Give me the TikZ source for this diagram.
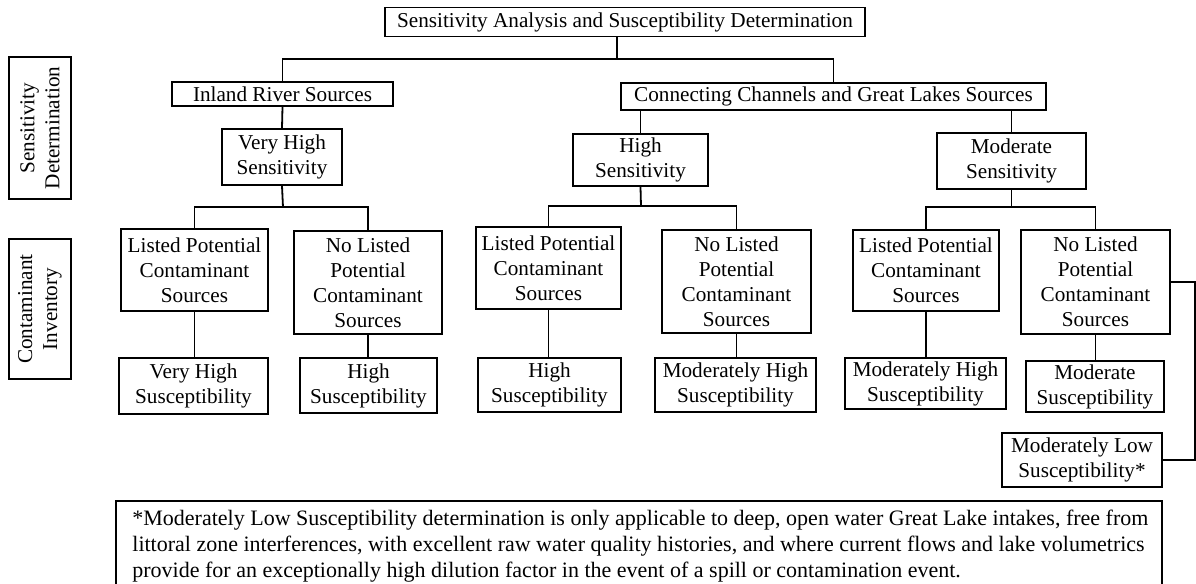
\documentclass[tikz,border=0pt]{standalone}
\usepackage{fontspec}
\setmainfont{Liberation Serif}
\usepackage{tikz}
\usetikzlibrary{positioning,calc}
\tikzset{
  box/.style={draw=black, line width=0.9pt, align=center, inner sep=0pt,
    font=\fontsize{10.6pt}{12.5pt}\selectfont},
  sz/.style 2 args={minimum width=#1*0.5pt, minimum height=#2*0.5pt},
  sidebox/.style={box, rotate=90},
  wire/.style={draw=black, line width=0.9pt},
  noteframe/.style={draw=black, line width=0.9pt},
  notetext/.style={align=left, inner sep=0pt, anchor=north west,
    font=\fontsize{11pt}{13pt}\selectfont}
}
\begin{document}
\begin{tikzpicture}[x=0.5pt, y=-0.5pt]
  \useasboundingbox (0,0) rectangle (1196,584);
  % side labels
  \node[sidebox, sz={142}{62}] (sd) at (40,128) {Sensitivity\\Determination};
  \node[sidebox, sz={140}{62}] (ci) at (40,309) {Contaminant\\Inventory};

  % top levels
  \node[box, sz={480}{29}] (top) at (625,22) {Sensitivity Analysis and Susceptibility Determination};
  \node[box, sz={221}{24}] (inland) at (282.5,94) {Inland River Sources};
  \node[box, sz={425}{27}] (conn) at (833.5,96.5) {Connecting Channels and Great Lakes Sources};
  \node[box, sz={120}{56}] (vhsens) at (282,157) {Very High\\Sensitivity};
  \node[box, sz={135}{52}] (hsens) at (640.5,160) {High\\Sensitivity};
  \node[box, sz={149}{56}] (msens) at (1011.5,161) {Moderate\\Sensitivity};

  % contaminant inventory
  \node[box, sz={147}{82}] (lvh) at (194.5,270) {Listed Potential\\Contaminant\\Sources};
  \node[box, sz={148}{103}] (nvh) at (368,282.5) {No Listed\\Potential\\Contaminant\\Sources};
  \node[box, sz={145}{82}] (lh) at (548.5,268) {Listed Potential\\Contaminant\\Sources};
  \node[box, sz={149}{103}] (nh) at (736.5,281.5) {No Listed\\Potential\\Contaminant\\Sources};
  \node[box, sz={146}{81}] (lm) at (926,270.5) {Listed Potential\\Contaminant\\Sources};
  \node[box, sz={149}{104}] (nm) at (1095.5,282) {No Listed\\Potential\\Contaminant\\Sources};

  % susceptibility
  \node[box, sz={149}{56}] (svh) at (193.5,386) {Very High\\Susceptibility};
  \node[box, sz={137}{55}] (shvh) at (368.5,385.5) {High\\Susceptibility};
  \node[box, sz={143}{54}] (sh) at (549.5,385) {High\\Susceptibility};
  \node[box, sz={161}{54}] (smh) at (735.5,385) {Moderately High\\Susceptibility};
  \node[box, sz={161}{51}] (smhm) at (925.5,383.5) {Moderately High\\Susceptibility};
  \node[box, sz={138}{51}] (smod) at (1095,386.5) {Moderate\\Susceptibility};
  \node[box, sz={160}{54}] (smlow) at (1082,460) {Moderately Low\\Susceptibility*};

  % forks
  \coordinate (root) at (617,59);
  \coordinate (vhfork) at (283,207);
  \coordinate (hfork) at (641,206);
  \coordinate (mfork) at (1011.5,207);

  \draw[wire] (top.south -| root) -- (root);
  \draw[wire] (inland.north) |- (root) -| (conn.north);
  \draw[wire] (inland.south) -- (vhsens.north);
  \draw[wire] (hsens.north) -- (hsens.north |- conn.south);
  \draw[wire] (msens.north) -- (msens.north |- conn.south);

  \draw[wire] (vhsens.south) -- (vhfork);
  \draw[wire] (lvh.north) |- (vhfork) -| (nvh.north);
  \draw[wire] (hsens.south) -- (hfork);
  \draw[wire] (lh.north) |- (hfork) -| (nh.north);
  \draw[wire] (msens.south) -- (mfork);
  \draw[wire] (lm.north) |- (mfork) -| (nm.north);

  \draw[wire] (lvh.south) -- (lvh.south |- svh.north);
  \draw[wire] (nvh.south) -- (nvh.south |- shvh.north);
  \draw[wire] (lh.south) -- (lh.south |- sh.north);
  \draw[wire] (nh.south) -- (nh.south |- smh.north);
  \draw[wire] (lm.south) -- (lm.south |- smhm.north);
  \draw[wire] (nm.south) -- (nm.south |- smod.north);
  \draw[wire] (nm.east) -- ++(24,0) |- (smlow.east);

  % footnote
  \draw[noteframe] (116,501) rectangle (1162,620);
  \node[notetext] (note) at (132,510) {*Moderately Low Susceptibility determination is only applicable to deep, open water Great Lake intakes, free from\\
    littoral zone interferences, with excellent raw water quality histories, and where current flows and lake volumetrics\\
    provide for an exceptionally high dilution factor in the event of a spill or contamination event.};
\end{tikzpicture}
\end{document}
